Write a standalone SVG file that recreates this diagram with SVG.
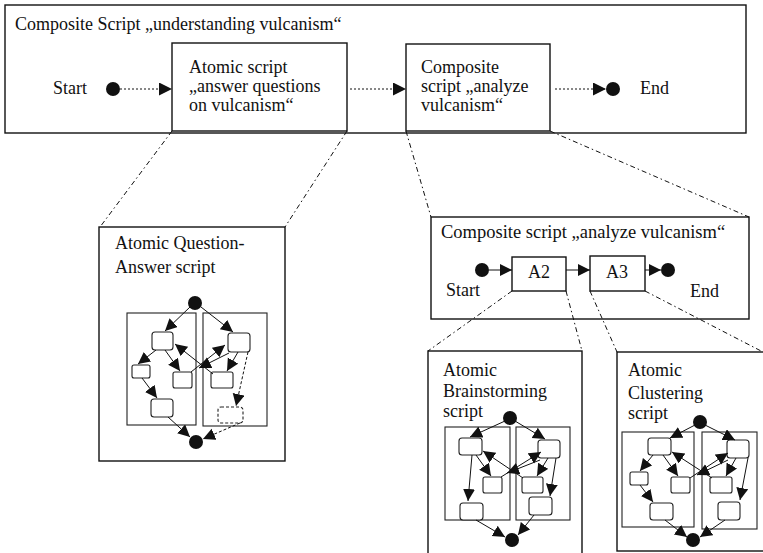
<svg xmlns="http://www.w3.org/2000/svg" width="763" height="553" viewBox="0 0 763 553">
<style>
  text { font-family: "Liberation Serif", "Times New Roman", serif; font-size: 18px; fill: #111; }
  .frame { fill: none; stroke: #111; stroke-width: 1.4; }
  .lane { fill: #fff; stroke: #222; stroke-width: 1.1; }
  .act { fill: #fff; stroke: #222; stroke-width: 1.1; }
  .dot { fill: #111; }
  .flow { stroke: #111; stroke-width: 1; fill: none; stroke-dasharray: 2 2; marker-end: url(#bigHead); }
  .zoom { stroke: #111; stroke-width: 1; fill: none; stroke-dasharray: 5 3 1.5 3; }
  .a { stroke: #111; stroke-width: 1; fill: none; marker-end: url(#head); }
  .sa { stroke: #111; stroke-width: 1; fill: none; marker-end: url(#head2); }
</style>
<defs>
  <marker id="bigHead" markerUnits="userSpaceOnUse" markerWidth="14" markerHeight="14" refX="13" refY="6.5" orient="auto">
    <path d="M0,0 L13,6.5 L0,13 Z" fill="#111"/>
  </marker>
  <marker id="head2" markerUnits="userSpaceOnUse" markerWidth="14" markerHeight="14" refX="12" refY="6" orient="auto">
    <path d="M0,0 L12,6 L0,12 Z" fill="#111"/>
  </marker>
  <marker id="head" markerUnits="userSpaceOnUse" markerWidth="14" markerHeight="14" refX="12" refY="6" orient="auto">
    <path d="M0,0 L12,6 L0,12 Z" fill="#111"/>
  </marker>
</defs>

<!-- Top composite script -->
<g id="composite-understanding">
  <rect class="frame" x="5" y="5" width="741" height="128"/>
  <text x="15" y="30">Composite Script „understanding vulcanism“</text>
</g>
<g id="start-top">
  <text x="53" y="94">Start</text>
  <circle class="dot" cx="113" cy="89" r="7"/>
</g>
<g id="atomic-answer">
  <rect class="frame" x="172" y="43" width="175" height="88"/>
  <text x="189" y="73">Atomic script</text>
  <text x="189" y="92">„answer questions</text>
  <text x="189" y="111">on vulcanism“</text>
</g>
<g id="composite-analyze">
  <rect class="frame" x="406" y="44" width="144" height="87"/>
  <text x="421" y="73">Composite</text>
  <text x="421" y="92">script „analyze</text>
  <text x="421" y="111">vulcanism“</text>
</g>
<g id="end-top">
  <circle class="dot" cx="613" cy="89" r="7"/>
  <text x="640" y="94">End</text>
</g>

<!-- Second level composite -->
<g id="composite-analyze-detail">
  <rect class="frame" x="431" y="217" width="318" height="102"/>
  <text x="441" y="238" style="font-size:18.5px">Composite script „analyze vulcanism“</text>
  <text x="446" y="296">Start</text>
  <text x="690" y="297">End</text>
  <circle class="dot" cx="482" cy="270" r="7"/>
  <circle class="dot" cx="668" cy="270" r="7"/>
</g>
<g id="A2">
  <rect class="frame" x="512" y="257" width="54" height="34"/>
  <text x="539" y="278" text-anchor="middle">A2</text>
</g>
<g id="A3">
  <rect class="frame" x="590" y="256" width="55" height="35"/>
  <text x="617" y="278" text-anchor="middle">A3</text>
</g>

<!-- Question-Answer script -->
<g id="qa-script">
  <rect class="frame" x="99" y="227" width="186" height="234"/>
  <text x="115" y="249">Atomic Question-</text>
  <text x="115" y="273">Answer script</text>
  <rect class="lane" x="127" y="313" width="69" height="112"/>
  <rect class="lane" x="203" y="313" width="64" height="113"/>
  <circle class="dot" cx="195" cy="303" r="7"/>
  <circle class="dot" cx="196" cy="442" r="7"/>
  <rect class="act" x="152" y="332" width="21" height="18" rx="3"/>
  <rect class="act" x="132" y="365" width="18" height="13" rx="2"/>
  <rect class="act" x="173" y="372" width="19" height="16" rx="2"/>
  <rect class="act" x="151" y="399" width="22" height="18" rx="3"/>
  <rect class="act" x="228" y="333" width="22" height="19" rx="3"/>
  <rect class="act" x="211" y="372" width="22" height="16" rx="2"/>
  <rect class="act" x="218" y="407" width="25" height="16" rx="3" stroke-dasharray="3 2"/>
  <line class="a" x1="190" y1="307" x2="165" y2="331"/>
  <line class="a" x1="201" y1="307" x2="233" y2="332"/>
  <line class="a" x1="156" y1="350" x2="138" y2="364"/>
  <line class="a" x1="165" y1="350" x2="180" y2="371"/>
  <line class="a" x1="213" y1="374" x2="175" y2="344"/>
  <line class="a" x1="191" y1="372" x2="225" y2="345"/>
  <line class="a" x1="229" y1="353" x2="199" y2="368"/>
  <line class="a" x1="238" y1="352" x2="227" y2="371"/>
  <line class="a" x1="142" y1="378" x2="157" y2="398"/>
  <line class="a" x1="248" y1="352" x2="236" y2="406" stroke-dasharray="3 2"/>
  <line class="a" x1="168" y1="417" x2="190" y2="437"/>
  <line class="a" x1="240" y1="423" x2="203" y2="439" stroke-dasharray="3 2"/>
</g>

<!-- Brainstorming script -->
<g id="brainstorming-script">
  <rect class="frame" x="428" y="351" width="154" height="210"/>
  <text x="443" y="376">Atomic</text>
  <text x="443" y="397">Brainstorming</text>
  <text x="443" y="417">script</text>
  <rect class="lane" x="445" y="427" width="65" height="93"/>
  <rect class="lane" x="516" y="427" width="54" height="93"/>
  <circle class="dot" cx="510" cy="418" r="7"/>
  <circle class="dot" cx="512" cy="540" r="7"/>
  <rect class="act" x="459" y="438" width="23" height="17" rx="3"/>
  <rect class="act" x="483" y="477" width="19" height="16" rx="2"/>
  <rect class="act" x="460" y="503" width="23" height="17" rx="3"/>
  <rect class="act" x="538" y="440" width="22" height="18" rx="3"/>
  <rect class="act" x="522" y="477" width="21" height="16" rx="2"/>
  <rect class="act" x="529" y="497" width="23" height="18" rx="3"/>
  <line class="a" x1="505" y1="421" x2="470" y2="437"/>
  <line class="a" x1="515" y1="421" x2="545" y2="439"/>
  <line class="a" x1="472" y1="455" x2="468" y2="501"/>
  <line class="a" x1="476" y1="455" x2="491" y2="476"/>
  <line class="a" x1="523" y1="478" x2="483" y2="451"/>
  <line class="a" x1="501" y1="477" x2="541" y2="452"/>
  <line class="a" x1="540" y1="460" x2="507" y2="473"/>
  <line class="a" x1="548" y1="458" x2="537" y2="476"/>
  <line class="a" x1="556" y1="458" x2="550" y2="496"/>
  <line class="a" x1="476" y1="520" x2="505" y2="537"/>
  <line class="a" x1="534" y1="515" x2="518" y2="535"/>
</g>

<!-- Clustering script -->
<g id="clustering-script">
  <rect class="frame" x="617" y="352" width="150" height="199"/>
  <text x="628" y="376">Atomic</text>
  <text x="628" y="399">Clustering</text>
  <text x="628" y="419">script</text>
  <rect class="lane" x="622" y="432" width="72" height="95"/>
  <rect class="lane" x="702" y="432" width="55" height="97"/>
  <circle class="dot" cx="700" cy="422" r="7"/>
  <circle class="dot" cx="693" cy="540" r="7"/>
  <rect class="act" x="648" y="438" width="23" height="17" rx="3"/>
  <rect class="act" x="630" y="472" width="18" height="13" rx="2"/>
  <rect class="act" x="671" y="477" width="19" height="16" rx="2"/>
  <rect class="act" x="650" y="503" width="23" height="17" rx="3"/>
  <rect class="act" x="727" y="440" width="22" height="18" rx="3"/>
  <rect class="act" x="710" y="477" width="22" height="16" rx="2"/>
  <rect class="act" x="718" y="502" width="22" height="18" rx="3"/>
  <line class="a" x1="695" y1="425" x2="670" y2="438"/>
  <line class="a" x1="705" y1="425" x2="735" y2="440"/>
  <line class="a" x1="653" y1="455" x2="640" y2="471"/>
  <line class="a" x1="663" y1="455" x2="678" y2="476"/>
  <line class="a" x1="712" y1="478" x2="672" y2="452"/>
  <line class="a" x1="690" y1="478" x2="728" y2="453"/>
  <line class="a" x1="728" y1="460" x2="697" y2="475"/>
  <line class="a" x1="736" y1="458" x2="726" y2="476"/>
  <line class="a" x1="640" y1="485" x2="653" y2="502"/>
  <line class="a" x1="748" y1="458" x2="740" y2="500"/>
  <line class="a" x1="665" y1="520" x2="687" y2="537"/>
  <line class="a" x1="725" y1="520" x2="700" y2="537"/>
</g>

<!-- Connectors -->
<g id="connectors">
  <line class="flow" x1="120" y1="89" x2="172" y2="89"/>
  <line class="flow" x1="350" y1="89" x2="406" y2="89"/>
  <line class="flow" x1="555" y1="89" x2="606" y2="89"/>
  <line class="sa" x1="489" y1="270" x2="512" y2="270"/>
  <line class="sa" x1="566" y1="270" x2="590" y2="270"/>
  <line class="sa" x1="645" y1="270" x2="661" y2="270"/>
  <line class="zoom" x1="172" y1="131" x2="100" y2="227"/>
  <line class="zoom" x1="347" y1="131" x2="285" y2="227"/>
  <line class="zoom" x1="406" y1="131" x2="431" y2="217"/>
  <line class="zoom" x1="550" y1="131" x2="749" y2="217"/>
  <line class="zoom" x1="512" y1="291" x2="428" y2="351"/>
  <line class="zoom" x1="566" y1="291" x2="582" y2="351"/>
  <line class="zoom" x1="590" y1="291" x2="617" y2="352"/>
  <line class="zoom" x1="645" y1="291" x2="763" y2="352"/>
</g>
</svg>
